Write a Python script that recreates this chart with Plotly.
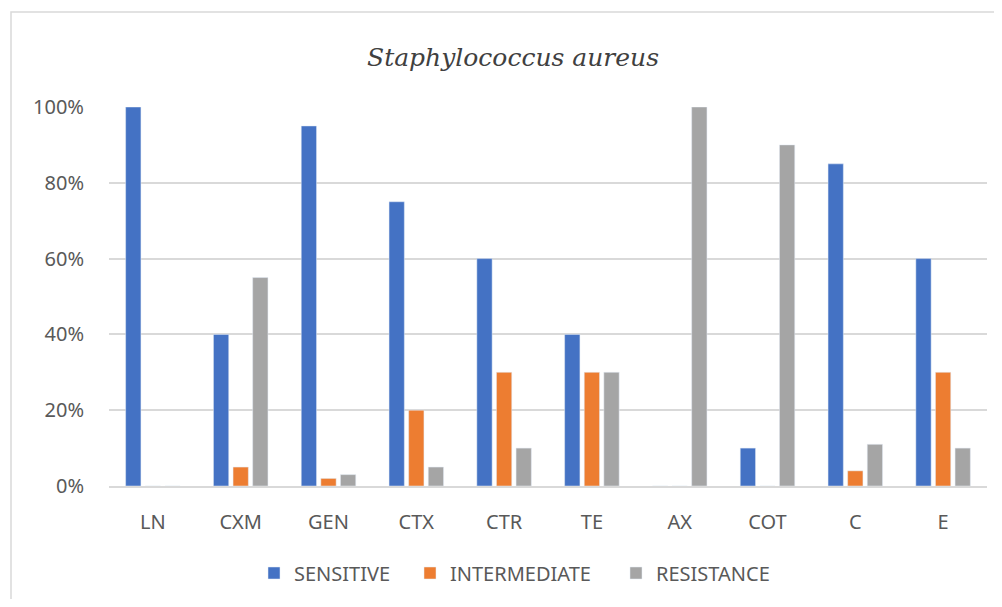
import plotly.graph_objects as go

categories = ["LN", "CXM", "GEN", "CTX", "CTR", "TE", "AX", "COT", "C", "E"]
sensitive = [100, 40, 95, 75, 60, 40, 0, 10, 85, 60]
intermediate = [0, 5, 2, 20, 30, 30, 0, 0, 4, 30]
resistance = [0, 55, 3, 5, 10, 30, 100, 90, 11, 10]
y_ticks = [0, 20, 40, 60, 80, 100]
y_tick_text = ["0%", "20%", "40%", "60%", "80%", "100%"]

# page body has an 8px margin; figure coordinates = screen coordinates - 8
W, H = 986, 591
L, R, T, B = 101, 7, 99, 113
pw, ph = W - L - R, H - T - B

def px_x(x):
    return (x - L) / pw

def px_y(y):
    return (H - B - y) / ph

fig = go.Figure()
fig.add_bar(x=categories, y=sensitive, name="SENSITIVE", marker_color="#4472C4", legend="legend")
fig.add_bar(x=categories, y=intermediate, name="INTERMEDIATE", marker_color="#ED7D31", legend="legend2")
fig.add_bar(x=categories, y=resistance, name="RESISTANCE", marker_color="#A5A5A5", legend="legend3")

leg_common = dict(orientation="h", xanchor="left", y=px_y(565), yanchor="middle",
                  font=dict(size=20, color="#595959"), itemwidth=30,
                  bgcolor="rgba(0,0,0,0)")

fig.update_layout(
    width=W, height=H,
    margin=dict(l=L, r=R, t=T, b=B, autoexpand=False),
    paper_bgcolor="white", plot_bgcolor="white",
    barmode="group", bargap=0.33, bargroupgap=0.22,
    font=dict(family="Noto Sans, Open Sans, sans-serif", color="#595959", size=20),
    title=dict(text="Staphylococcus aureus", x=505 / W, y=1 - 49 / H,
               xanchor="center", yanchor="middle",
               font=dict(family="DejaVu Serif, Liberation Serif, serif", size=25,
                         color="#404040", style="italic")),
    legend=dict(x=px_x(246), **leg_common),
    legend2=dict(x=px_x(402), **leg_common),
    legend3=dict(x=px_x(608), **leg_common),
    showlegend=True,
    shapes=[dict(type="rect", xref="paper", yref="paper",
                 x0=px_x(3), x1=px_x(1000), y0=px_y(620), y1=px_y(4),
                 line=dict(color="#d9d9d9", width=1.5), fillcolor="rgba(0,0,0,0)",
                 layer="below")],
)
fig.update_xaxes(showgrid=False, showline=True, linecolor="#d9d9d9", linewidth=1.5,
                 ticks="outside", ticklen=17, tickcolor="rgba(0,0,0,0)",
                 tickfont=dict(size=20, color="#595959"))
fig.update_yaxes(range=[0, 100], tickvals=y_ticks, ticktext=y_tick_text,
                 showgrid=True, gridcolor="#d9d9d9", gridwidth=1.5,
                 zeroline=False, showline=False,
                 ticks="outside", ticklen=20, tickcolor="rgba(0,0,0,0)",
                 tickfont=dict(size=20, color="#595959"))

fig.write_html("out.html")
